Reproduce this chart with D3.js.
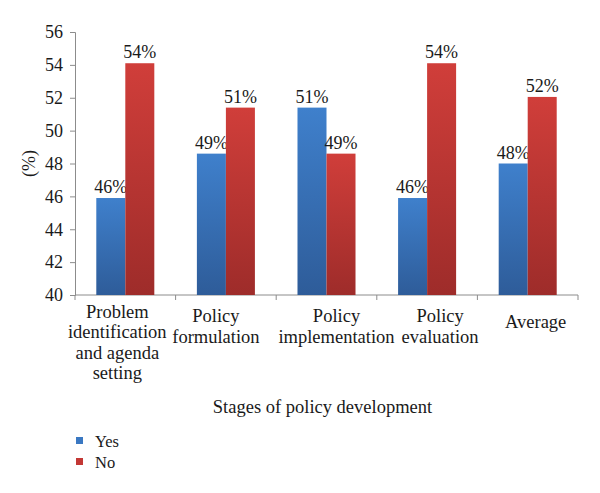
<!DOCTYPE html>
<html><head><meta charset="utf-8">
<script src="https://cdn.jsdelivr.net/npm/d3@7"></script>
<style>body{margin:0;background:#fff}svg{display:block}
svg text{font-family:"Liberation Serif","DejaVu Serif",serif;}
</style>
</head><body><svg id="c" width="600" height="493"></svg>
<script>
const categories = [
  ["Problem","identification","and agenda","setting"],
  ["Policy","formulation"],
  ["Policy","implementation"],
  ["Policy","evaluation"],
  ["Average"]
];
const seriesNames = ["Yes","No"];
const yesValues = [45.9, 48.6, 51.4, 45.9, 48.0];
const noValues  = [54.1, 51.4, 48.6, 54.1, 52.05];
const yesLabels = ["46%","49%","51%","46%","48%"];
const noLabels  = ["54%","51%","49%","54%","52%"];
const yTicks = [40,42,44,46,48,50,52,54,56];

const svg = d3.select("#c");
const L = 75, R = 578, T = 32, B = 295;

const defs = svg.append("defs");
const grads = [["gYes","#3f80cc","#2e5c99"],["gNo","#d03e3a","#9e2c2a"]];
grads.forEach(([id,a,b])=>{
  const g = defs.append("linearGradient").attr("id",id).attr("x1",0).attr("y1",0).attr("x2",0).attr("y2",1);
  g.append("stop").attr("offset","0%").attr("stop-color",a);
  g.append("stop").attr("offset","100%").attr("stop-color",b);
});

const idx = d3.range(categories.length);
const x0 = d3.scaleBand().domain(idx).range([L,R]).padding(0);
const x1 = d3.scaleBand().domain(seriesNames).range([0,x0.bandwidth()]).paddingInner(0).paddingOuter(0.734);
const y = d3.scaleLinear().domain([40,56]).range([B,T]);

const axisColor = "#8c8c8c";
const yAxis = svg.append("g").attr("transform",`translate(${L},0)`)
  .call(d3.axisLeft(y).tickValues(yTicks).tickSize(5).tickPadding(7).tickFormat(d3.format("d")));
yAxis.attr("font-family",null);
yAxis.select(".domain").attr("stroke",axisColor);
yAxis.selectAll(".tick line").attr("stroke",axisColor);
yAxis.selectAll("text").attr("font-size",18).attr("fill","#1a1a1a");

const xTickPos = idx.map(i=>x0(i)).concat([R]);
const xg = svg.append("g");
xg.append("line").attr("x1",L).attr("x2",R).attr("y1",B).attr("y2",B).attr("stroke",axisColor);
xg.selectAll("line.t").data(xTickPos).enter().append("line").attr("class","t")
  .attr("x1",d=>d).attr("x2",d=>d).attr("y1",B).attr("y2",B+5).attr("stroke",axisColor);

const series = [
  {name:"Yes", vals:yesValues, labels:yesLabels, fill:"url(#gYes)"},
  {name:"No", vals:noValues, labels:noLabels, fill:"url(#gNo)"}
];
series.forEach(s=>{
  svg.append("g").selectAll("rect").data(s.vals).enter().append("rect")
    .attr("x",(d,i)=>x0(i)+x1(s.name))
    .attr("width",x1.bandwidth())
    .attr("y",d=>y(d))
    .attr("height",d=>B-y(d))
    .attr("fill",s.fill);
  svg.append("g").selectAll("text").data(s.vals).enter().append("text")
    .attr("x",(d,i)=>x0(i)+x1(s.name)+x1.bandwidth()/2)
    .attr("y",d=>y(d)-5)
    .attr("text-anchor","middle")
    .attr("font-size",18).attr("fill","#1a1a1a")
    .text((d,i)=>s.labels[i]);
});

// category labels (horizontal nudges mimic the original's overlap avoidance)
const labelNudge = [-8, -10, 10, 13, 8];
const firstLineShift = {1:0, 2:-6, 3:-9, 4:-10.5};
categories.forEach((lines,i)=>{
  const cx = x0(i)+x0.bandwidth()/2+labelNudge[i];
  const t = svg.append("text")
    .attr("x",cx)
    .attr("y",B+33+firstLineShift[lines.length])
    .attr("text-anchor","middle")
    .attr("font-size",18.5).attr("fill","#1a1a1a");
  lines.forEach((ln,j)=>{
    t.append("tspan").attr("x",cx).attr("dy",j===0?0:20.5).text(ln);
  });
});

svg.append("text").attr("x",(L+R)/2-4).attr("y",413).attr("text-anchor","middle")
  .attr("font-size",18.5).attr("fill","#1a1a1a")
  .text("Stages of policy development");
svg.append("text").attr("transform",`translate(35,${(T+B)/2}) rotate(-90)`)
  .attr("text-anchor","middle")
  .attr("font-size",18).attr("fill","#1a1a1a")
  .text("(%)");

const legColors = ["#3a78c2","#c33835"];
seriesNames.forEach((n,i)=>{
  const yy = 441 + i*21;
  svg.append("rect").attr("x",76).attr("y",yy-4).attr("width",7).attr("height",7).attr("fill",legColors[i]);
  svg.append("text").attr("x",95).attr("y",yy+6)
    .attr("font-size",16.5).attr("fill","#1a1a1a").text(n);
});
</script></body></html>
